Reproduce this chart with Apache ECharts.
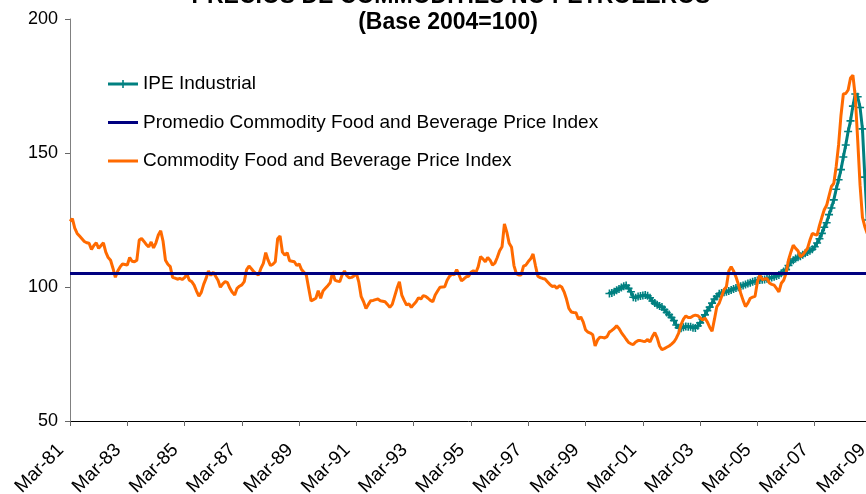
<!DOCTYPE html>
<html>
<head>
<meta charset="utf-8">
<script src="https://cdn.jsdelivr.net/npm/echarts@6/dist/echarts.min.js"></script>
<style>
html,body{margin:0;padding:0;background:#fff;}
#chart{width:866px;height:494px;}
</style>
</head>
<body>
<div id="chart"></div>
<script>
// ---- Data ----
const titleLine1 = 'PRECIOS DE COMMODITIES NO PETROLEROS';
const titleLine2 = '(Base 2004=100)';
const seriesNames = ['IPE Industrial', 'Promedio Commodity Food and Beverage Price Index', 'Commodity Food and Beverage Price Index'];
const monthNames = ['Jan','Feb','Mar','Apr','May','Jun','Jul','Aug','Sep','Oct','Nov','Dec'];
const firstYear = 1981, firstMonth = 2, monthCount = 337; // Mar-81 .. Mar-09
const yTicks = [50, 100, 150, 200];
const averageValue = 105;

// Commodity Food and Beverage Price Index, monthly from Mar-81
const foodValues = [
 124.5,125.5,122,120,119,118,117,116.5,116.3,114,115.5,116.5,
 114.4,115.5,116.5,113,111,110,107,103.6,106,107.5,108.6,108.4,
 108.2,111,109.6,109.4,110,117.5,118.1,117,115.8,115,116.8,114.6,
 116.5,119.4,121,117,110,108.5,107.6,103.6,103.3,102.9,103.2,102.8,
 103.5,104.8,102.5,102,100.7,98.5,96.6,98,101,103.2,106,104.3,
 105.5,104,102.5,99.9,101.2,102,101.6,99.5,98,97,99.5,100.3,
 100.8,102,106.5,107.8,106.8,105.7,105,104.5,107,108.8,112.8,110,
 108,108.5,109.4,118,119,113,111.9,112.8,109.8,109.6,109.4,108,
 108.6,106.5,105.5,104.5,99.5,94.8,95.3,95.8,98.6,95.8,98.5,99.5,
 100.5,101.6,105.5,102.6,102.2,102,104.5,106,104.2,103.4,103.6,104.1,
 105.1,101.8,96.4,94.5,92,93.5,94.9,95,95.3,95.5,94.9,94.7,
 94.5,93.5,92.4,93.5,96.5,99.5,102,97,95,93.3,93.7,92.4,
 93.5,94.5,96,95.5,96.8,96.5,95.8,95,94.5,97,98.5,99.9,
 100,100.1,102.5,104,104.8,104.5,106.5,104.5,102.3,103,103.8,104,
 105.5,106.1,105.3,107.5,111.3,110.5,109.4,111,110,108.2,108.9,111,
 113.5,115,123.5,120.5,116.3,114.8,108,105,104.5,104.5,107.8,108.2,
 109.5,110.5,112.3,108,104,103.5,103.2,103,102,101,100.2,100.4,
 99.5,100.5,100,98.2,95.5,92,90.7,90.5,90.4,88,88.8,87,
 84,83.2,82.8,82.2,78,80.2,81.3,81.2,81,81.5,83.2,83.8,
 84.5,85.5,84.5,83,81.8,80.5,79.3,78.8,78.5,79.5,80,80,
 79.8,79.7,80.4,79.5,81.5,83,81,78,76.6,77,77.5,78,
 78.7,79.5,80.9,82.8,86,88,89.2,88.6,88.6,89.2,89.5,89.3,
 88.5,87.7,88.4,87,85,83.5,88,92.7,94,96.5,99,100.1,
 106,107.6,106,103.8,101,97.7,95,92.7,94,95.8,96.2,96.5,
 102,104.5,102.8,103,103.2,101.5,101,100.7,99.5,98.2,101.4,102.5,
 105.1,110,113,115.6,114.4,113.5,111.3,112,113.2,114.5,117.5,120,
 119.6,119.4,123,126,128.8,130.5,134,137.5,138.7,145,153,164,
 172,172.2,173.5,178,179,171,155,138,126,122.5,120
];

// IPE Industrial, monthly from Jan-00
const ipeStartIndex = 226;
const ipeValues = [
 97.6,97.8,
 98.2,98.8,99.3,99.8,100.3,100.6,99.5,98.2,96.2,96,96.5,96.6,
 96.8,97,96.7,96,94.8,94,93.4,92.9,92.5,91.6,90.5,89.7,
 88.6,87.5,85.8,84.8,84.6,85,85.3,85.2,85.2,84.8,84.7,85.5,
 86.6,88,89.6,91.2,92.5,94,95.5,96.5,97.5,97.8,98,98.2,
 98.5,98.9,99.3,99.6,99.9,100.3,100.6,100.9,101.3,101.6,102,102.2,
 102.4,102.6,102.7,102.8,103.1,103.4,103.5,103.8,104.1,104.5,105.1,105.8,
 106.5,108,109.3,110,110.6,111.1,111.5,112,112.6,113.1,113.5,114.1,
 115,116.4,118,120,122.3,124,127,129.5,132.5,136.5,140,143.8,
 148.5,153,158,162,167.5,172,171,167,159,141,125
];

// ---- Build ----
const categories = [];
for (let i = 0; i < monthCount; i++) {
  const m = firstMonth + i;
  const y = (firstYear + Math.floor(m / 12)) % 100;
  categories.push(monthNames[m % 12] + '-' + String(y).padStart(2, '0'));
}
const ipeData = ipeValues.map((v, k) => [categories[ipeStartIndex + k], v]);
const foodData = foodValues.map((v, k) => [categories[k], v]);

const FONT = "'Liberation Sans', Arial, sans-serif";
const plusPath = 'path://M3.2,0H4.8V3.2H8V4.8H4.8V8H3.2V4.8H0V3.2H3.2Z';
// legend icons drawn in a 30x14 box (tiny corner dots keep the box size)
const corners = 'M0,0h0.01v0.01h-0.01Z M30,14h-0.01v-0.01h0.01Z ';
const lineIcon = 'path://' + corners + 'M0,5.5H30V8.5H0Z';
const plusLineIcon = 'path://' + corners + 'M0,5.5H30V8.5H0Z M14.2,3H15.8V11H14.2Z M11,6.2H19V7.8H11Z';

const chart = echarts.init(document.getElementById('chart'), null, {renderer: 'canvas'});
chart.setOption({
  animation: false,
  backgroundColor: '#ffffff',
  textStyle: {fontFamily: FONT},
  graphic: [
    {type: 'text', style: {text: titleLine1, x: 451, y: -3, align: 'center', verticalAlign: 'middle', font: 'bold 23px ' + FONT, fill: '#000'}},
    {type: 'text', style: {text: titleLine2, x: 448, y: 23, align: 'center', verticalAlign: 'middle', font: 'bold 23px ' + FONT, fill: '#000'}}
  ],
  grid: {left: 70, right: -6, top: 19, bottom: 73, containLabel: false, outerBoundsMode: 'none'},
  legend: {
    orient: 'vertical', left: 103, top: 68,
    itemWidth: 30, itemHeight: 14, itemGap: 16.5,
    textStyle: {fontSize: 19, color: '#000', fontFamily: FONT, lineHeight: 22},
    data: [
      {name: seriesNames[0], icon: plusLineIcon},
      {name: seriesNames[1], icon: lineIcon},
      {name: seriesNames[2], icon: lineIcon}
    ]
  },
  xAxis: {
    type: 'category', data: categories, boundaryGap: false,
    axisLine: {lineStyle: {color: '#000', width: 1}},
    axisTick: {interval: 23, length: 5, lineStyle: {color: '#666'}},
    axisLabel: {interval: 23, rotate: 45, margin: 17, padding: [0, 13, 0, 0], fontSize: 19, color: '#000', fontFamily: FONT},
    splitLine: {show: false}
  },
  yAxis: {
    type: 'value', min: yTicks[0], max: yTicks[yTicks.length - 1], interval: 50,
    axisLine: {show: true, lineStyle: {color: '#808080', width: 1}},
    axisTick: {show: true, length: 5, lineStyle: {color: '#666'}},
    axisLabel: {margin: 12, fontSize: 18, color: '#000', fontFamily: FONT},
    splitLine: {show: false}
  },
  series: [
    {
      name: seriesNames[0], type: 'line', data: ipeData, z: 3,
      color: '#008080',
      symbol: plusPath, symbolSize: 8, showSymbol: true, showAllSymbol: true,
      itemStyle: {color: '#008080'},
      lineStyle: {color: '#008080', width: 3},
      emphasis: {disabled: true}
    },
    {
      name: seriesNames[1], type: 'line', data: [], z: 2,
      color: '#000080', symbol: 'none',
      lineStyle: {color: '#000080', width: 3},
      markLine: {
        silent: true, symbol: 'none', label: {show: false},
        lineStyle: {color: '#000080', width: 3, type: 'solid'},
        data: [{yAxis: averageValue}]
      }
    },
    {
      name: seriesNames[2], type: 'line', data: foodData, z: 4,
      color: '#FF6A00', symbol: 'none',
      lineStyle: {color: '#FF6A00', width: 3},
      emphasis: {disabled: true}
    }
  ]
});
</script>
</body>
</html>
